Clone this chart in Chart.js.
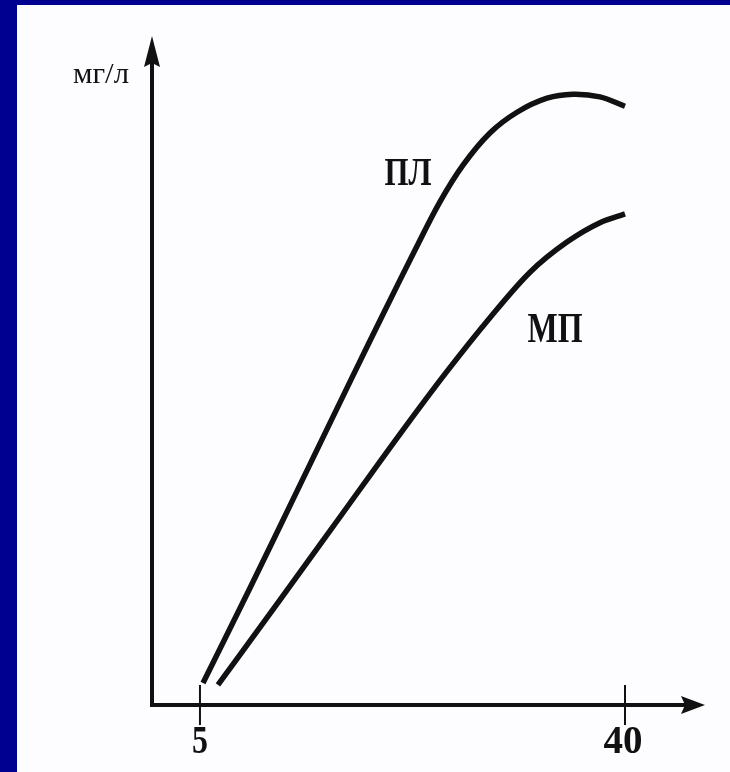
<!DOCTYPE html>
<html>
<head>
<meta charset="utf-8">
<script src="https://cdn.jsdelivr.net/npm/chart.js@4"></script>
<style>
  html, body { margin: 0; padding: 0; }
  body { width: 730px; height: 772px; background: #000090; position: relative; overflow: hidden; }
  #sheet { position: absolute; left: 17px; top: 5px; right: 0; bottom: 0; background: #fdfcff; }
  #chart { position: absolute; left: 0; top: 0; }
</style>
</head>
<body>
<div id="sheet"></div>
<canvas id="chart" width="730" height="772"></canvas>
<script>
// curve ПЛ
var plX = [5.25, 9.12, 13.24, 17.35, 20.24, 22.71, 24.76, 26.66, 28.88, 31.11, 33.58, 35.72, 37.94, 40.0];
var plY = [3.3, 17.5, 32.9, 48.3, 59.0, 68.0, 75.2, 80.7, 85.5, 88.6, 90.7, 91.3, 90.9, 89.5];
// curve МП
var mpX = [6.48, 11.59, 16.53, 21.47, 25.18, 28.88, 32.18, 35.22, 37.94, 40.0];
var mpY = [3.0, 15.7, 28.1, 40.5, 49.5, 57.9, 64.7, 69.2, 72.1, 73.4];
var xTicks = [5, 40];
var xTickLabels = ['5', '40'];
var yTitle = 'мг/л';
var seriesNames = ['ПЛ', 'МП'];

function pts(xs, ys) {
  var out = [];
  for (var i = 0; i < xs.length; i++) out.push({x: xs[i], y: ys[i]});
  return out;
}

function fitText(ctx, txt, cx, baseY, size, weight, w) {
  ctx.save();
  ctx.font = weight + ' ' + size + 'px "Liberation Serif", "DejaVu Serif", serif';
  var m = ctx.measureText(txt).width;
  ctx.translate(cx, baseY);
  ctx.scale(w / m, 1);
  ctx.textAlign = 'center';
  ctx.textBaseline = 'alphabetic';
  ctx.fillStyle = '#111';
  ctx.fillText(txt, 0, 0);
  ctx.restore();
}

var axesPlugin = {
  id: 'arrowAxes',
  beforeDatasetsDraw: function(chart) {
    var ctx = chart.ctx, a = chart.chartArea;
    var xs = chart.scales.x, ys = chart.scales.y;
    var x0 = a.left, y0 = a.bottom;
    ctx.save();
    ctx.strokeStyle = '#111';
    ctx.fillStyle = '#111';
    ctx.lineWidth = 4;
    ctx.lineCap = 'butt';
    // y axis
    ctx.beginPath();
    ctx.moveTo(x0, y0 + 2);
    ctx.lineTo(x0, a.top + 20);
    ctx.stroke();
    // x axis
    ctx.beginPath();
    ctx.moveTo(x0 - 2, y0);
    ctx.lineTo(a.right - 18, y0);
    ctx.stroke();
    // arrow heads
    ctx.beginPath();
    ctx.moveTo(x0, a.top);
    ctx.lineTo(x0 + 8, a.top + 31);
    ctx.lineTo(x0, a.top + 27);
    ctx.lineTo(x0 - 8, a.top + 31);
    ctx.closePath();
    ctx.fill();
    ctx.beginPath();
    ctx.moveTo(a.right, y0);
    ctx.lineTo(a.right - 24, y0 - 9);
    ctx.lineTo(a.right - 20, y0);
    ctx.lineTo(a.right - 24, y0 + 9);
    ctx.closePath();
    ctx.fill();
    // tick marks
    ctx.lineWidth = 2;
    for (var i = 0; i < xTicks.length; i++) {
      var px = xs.getPixelForValue(xTicks[i]);
      ctx.beginPath();
      ctx.moveTo(px, y0 - 20);
      ctx.lineTo(px, y0 + 20);
      ctx.stroke();
    }
    ctx.restore();
    fitText(ctx, xTickLabels[0], xs.getPixelForValue(xTicks[0]), y0 + 48, 39, 'bold', 16);
    fitText(ctx, xTickLabels[1], xs.getPixelForValue(xTicks[1]) - 2, y0 + 48, 39, 'bold', 39);
    // axis title
    fitText(ctx, yTitle, x0 - 51, ys.getPixelForValue(93.0), 29, 'normal', 56);
    // series labels
    fitText(ctx, seriesNames[0], xs.getPixelForValue(22.13), ys.getPixelForValue(77.7), 41, 'bold', 47);
    fitText(ctx, seriesNames[1], xs.getPixelForValue(34.24), ys.getPixelForValue(54.3), 42, 'bold', 55);
  }
};

var chartData = {
  datasets: [
    { label: seriesNames[0], data: pts(plX, plY), tension: 0.35 },
    { label: seriesNames[1], data: pts(mpX, mpY), cubicInterpolationMode: 'monotone' }
  ]
};
chartData.datasets.forEach(function(d) {
  d.showLine = true;
  d.borderColor = '#111';
  d.borderWidth = 5.5;
  d.borderCapStyle = 'butt';
  d.pointRadius = 0;
  d.fill = false;
});

var myChart = new Chart(document.getElementById('chart').getContext('2d'), {
  type: 'scatter',
  data: chartData,
  options: {
    responsive: false,
    animation: false,
    layout: { padding: { left: 152, right: 25, top: 36, bottom: 67 } },
    plugins: { legend: { display: false }, tooltip: { enabled: false } },
    scales: {
      x: { type: 'linear', display: false, min: 1.05, max: 46.59 },
      y: { type: 'linear', display: false, min: 0, max: 100 }
    }
  },
  plugins: [axesPlugin]
});
</script>
</body>
</html>
